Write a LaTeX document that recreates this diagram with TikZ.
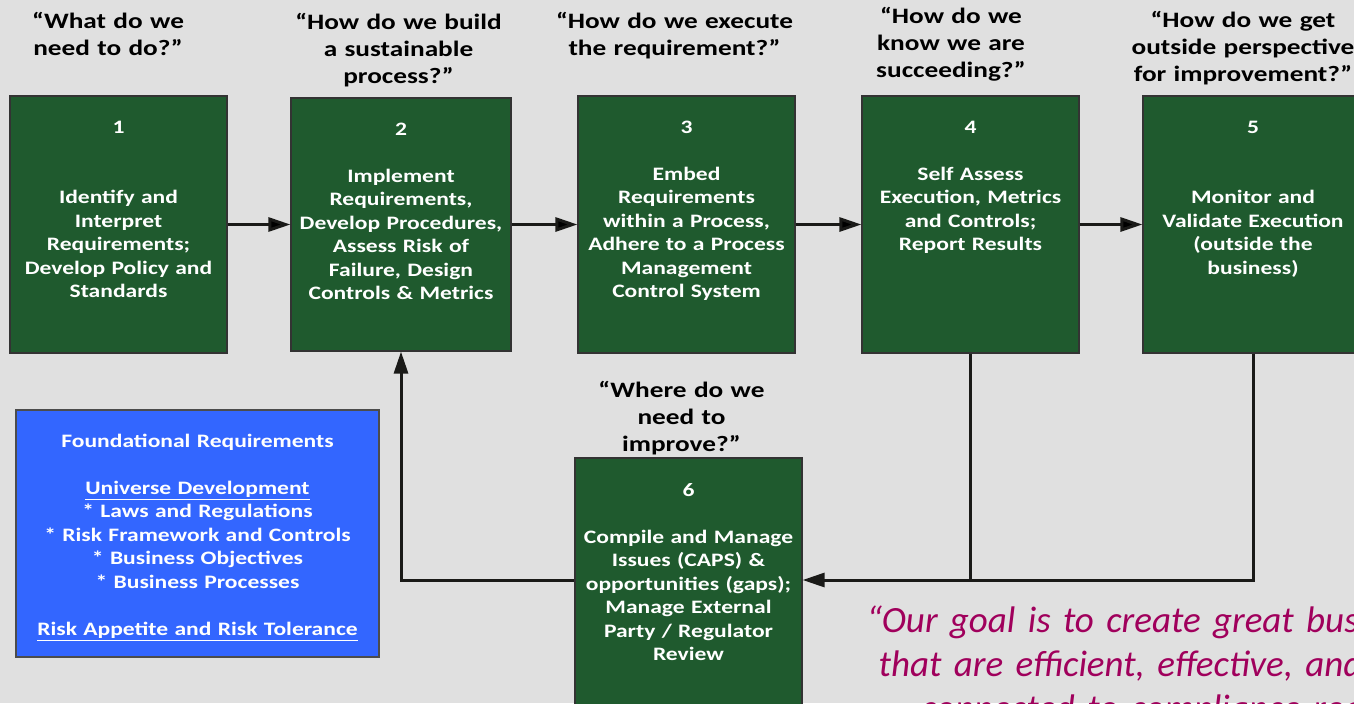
\documentclass[tikz,border=0pt]{standalone}
\usepackage{fontspec}
\setmainfont[FakeStretch=1.24]{Carlito}
\newfontfamily\quotefont{Carlito}
\usetikzlibrary{positioning, arrows.meta}

\definecolor{bggray}{RGB}{224,224,224}
\definecolor{stepgreen}{RGB}{31,90,46}
\definecolor{basisblue}{RGB}{51,102,255}
\definecolor{goalpink}{RGB}{160,0,92}
\definecolor{wirecol}{RGB}{26,26,24}

\tikzset{
  stepbox/.style={draw=black!80, fill=stepgreen, line width=0.6pt, inner sep=0pt},
  steptext/.style={text=white, font=\fontsize{9.5}{11.75}\selectfont\bfseries,
    text width=130pt, align=center, inner sep=0pt, anchor=base},
  question/.style={text=black, font=\fontsize{11}{13.5}\selectfont\bfseries,
    text width=140pt, align=center, inner sep=0pt, anchor=base},
  basis/.style={draw=black!70, fill=basisblue, line width=0.6pt,
    minimum width=181.5pt, minimum height=123.5pt, inner sep=0pt},
  goal/.style={text=goalpink, font=\quotefont\fontsize{18.5}{22}\selectfont\itshape,
    text width=420pt, align=center, inner sep=0pt, anchor=base},
  wire/.style={draw=wirecol, line width=1.5pt},
}

\begin{document}
\begin{tikzpicture}[x=0.5pt, y=-0.5pt, >={Triangle[length=11pt,width=7pt]}]
  \fill[bggray] (0,0) rectangle (1354,703);
  \useasboundingbox (0,0) rectangle (1354,703);
  \clip (0,0) rectangle (1354,703);

  % Top row: steps 1-5
  \node[stepbox, minimum width=108.5pt, minimum height=128.5pt] (s1) at (118.5,224.5) {};
  \node[stepbox, minimum width=110pt, minimum height=126.5pt] (s2) at (401,224.5) {};
  \node[stepbox, minimum width=108.5pt, minimum height=128.5pt] (s3) at (686.5,224.5) {};
  \node[stepbox, minimum width=108.5pt, minimum height=128.5pt] (s4) at (970.5,224.5) {};
  \node[stepbox, minimum width=110pt, minimum height=128.5pt] (s5) at (1253,224.5) {};

  % Bottom: step 6
  \node[stepbox, minimum width=113.5pt, minimum height=140pt] (s6) at (688.5,598) {};

  % Step texts
  \node[steptext] (t1) at (118.5,133) {1\\[23.5pt]Identify and\\Interpret\\Requirements;\\Develop Policy and\\Standards};
  \node[steptext] (t2) at (401,135) {2\\[11.75pt]Implement\\Requirements,\\Develop Procedures,\\Assess Risk of\\Failure, Design\\Controls \& Metrics};
  \node[steptext] (t3) at (686.5,133) {3\\[11.75pt]Embed\\Requirements\\within a Process,\\Adhere to a Process\\Management\\Control System};
  \node[steptext] (t4) at (970.5,133) {4\\[11.75pt]Self Assess\\Execution, Metrics\\and Controls;\\Report Results};
  \node[steptext] (t5) at (1253,133) {5\\[23.5pt]Monitor and\\Validate Execution\\(outside the\\business)};
  \node[steptext] (t6) at (688.5,496) {6\\[11.75pt]Compile and Manage\\Issues (CAPS) \&\\opportunities (gaps);\\Manage External\\Party / Regulator\\Review};

  % Questions above the steps
  \node[question] (q1) at (108,28) {“What do we\\need to do?”};
  \node[question] (q2) at (398.5,29) {“How do we build\\a sustainable\\process?”};
  \node[question] (q3) at (674.5,28) {“How do we execute\\the requirement?”};
  \node[question] (q4) at (951,23.5) {“How do we\\know we are\\succeeding?”};
  \node[question] (q5) at (1243,27) {“How do we get\\outside perspective\\for improvement?”};
  \node[question] (q6) at (681.5,397) {“Where do we\\need to\\improve?”};

  % Foundation box
  \node[basis] (fr) at (197.5,533.5) {};
  \node[steptext, text width=180pt] (frt) at (197.5,447) {Foundational Requirements\\[11.75pt]\underline{Universe Development}\\{}* Laws and Regulations\\{}* Risk Framework and Controls\\{}* Business Objectives\\{}* Business Processes\\[11.75pt]\underline{Risk Appetite and Risk Tolerance}};

  % Goal statement
  \node[goal] (gl) at (1228,632) {“Our goal is to create great business processes\\that are efficient, effective, and appropriately\\connected to compliance requirements.”};

  % Forward flow
  \path[wire, ->]
  (s1) edge (s2)
  (s2) edge (s3)
  (s3) edge (s4)
  (s4) edge (s5);

  % Feedback loop
  \coordinate (fb) at (1253,580);
  \draw[wire, ->] (s5.south) |- (s6.east |- fb);
  \draw[wire] (s4.south) -- (s4.south |- fb);
  \draw[wire, ->] (s6.west |- fb) -| (s2.south);
\end{tikzpicture}
\end{document}
